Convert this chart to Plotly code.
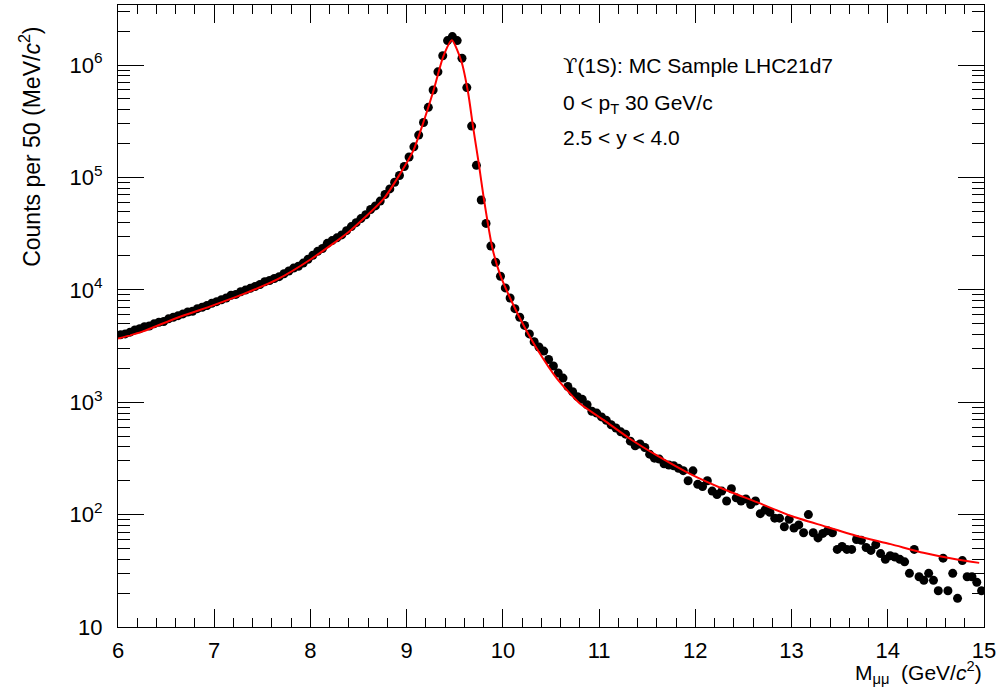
import plotly.graph_objects as go

# Dimuon invariant mass, 50 MeV bins from 6 to 15 GeV/c^2
bin_low = 6.0
bin_width = 0.05

# counts per bin (rising side up to the peak)
counts_rise = [
    3980, 4050, 4200, 4400, 4500, 4700, 4760, 4980, 5150, 5230,
    5520, 5700, 5890, 6100, 6350, 6440, 6800, 7000, 7250, 7600,
    7850, 8150, 8450, 8950, 9100, 9600, 9950, 10300, 10700, 11150,
    11800, 12100, 12600, 13100, 13900, 14700, 15600, 16200, 17300, 18700,
    20300, 22000, 23300, 25900, 27400, 29000, 30800, 33600, 36500, 39600,
    43000, 46500, 51800, 55800, 61600, 70500, 79000, 90500, 104000, 125000,
    152000, 187000, 238000, 308000, 420000, 600000, 870000, 1210000, 1650000, 1790000,
    1650000, 1150000, 630000, 286000, 128000,
]
# falling side 9.775 - 11.875
counts_fall = [
    63000, 39000, 24500, 17600, 13200,
    10400, 8450, 6800, 5700, 4820, 4050, 3450, 3100, 2850, 2400,
    2100, 1820, 1640, 1380, 1240, 1120, 1060, 950, 830, 800,
    740, 690, 630, 590, 545, 520, 450, 410, 425, 395,
    345, 318, 312, 283, 276, 272, 258, 246,
]
# high mass tail 11.925 - 14.975
counts_tail = [
    200, 245, 186, 178, 200, 162, 151, 162, 132, 170,
    141, 132, 138, 123, 132, 102, 110, 105, 93, 93,
    78, 91, 76, 81, 69, 100, 69, 62, 68, 72,
    69, 49, 52, 49, 49, 60, 59, 51, 48, 54,
    45, 40, 43, 42, 40, 38, 30, 49, 28, 26,
    30, 26, 21, 41, 21, 30, 18, 39, 28, 28,
    25, 21,
]

counts = counts_rise + counts_fall + counts_tail
mass = [round(bin_low + bin_width * (i + 0.5), 3) for i in range(len(counts))]

# fit curve (red), sampled from the plot
fit_mass = [6.00, 6.26, 6.61, 6.96, 7.30, 7.65, 8.00, 8.41, 8.76,
            8.93, 9.07, 9.17, 9.28, 9.38, 9.47, 9.57, 9.64, 9.69, 9.75,
            9.80, 9.89, 9.97, 10.09, 10.23, 10.35, 10.56, 10.80, 11.05, 11.32,
            11.60, 11.95, 12.29, 12.64, 12.99, 13.33, 13.68, 14.03, 14.37, 14.72,
            14.95]
fit_counts = [3680, 4270, 5620, 7130, 9150, 12300, 18600, 33400, 64300,
              107000, 174000, 302000, 597000, 1190000, 1660000, 1070000, 558000, 282000, 132000,
              66400, 23700, 13700, 7910, 4570, 3020, 1630, 973, 692, 473,
              336, 229, 169, 129, 97.7, 79.4, 64.6, 54.6, 45.7, 39.8,
              37.2]

y_tickvals = [10, 100, 1000, 1e4, 1e5, 1e6]
y_ticktext = ["10", "10<sup>2</sup>", "10<sup>3</sup>", "10<sup>4</sup>",
              "10<sup>5</sup>", "10<sup>6</sup>"]

FONT = "Liberation Sans, Arial, Helvetica, sans-serif"

fig = go.Figure()
fig.add_trace(go.Scatter(x=mass, y=counts, mode="markers",
                         marker=dict(color="black", size=9, line=dict(width=0)),
                         name="MC"))
fig.add_trace(go.Scatter(x=fit_mass, y=fit_counts, mode="lines",
                         line=dict(color="#ff0000", width=2, shape="spline", smoothing=0.6),
                         name="fit"))

fig.update_layout(
    width=1003, height=689,
    margin=dict(l=118, r=19, t=5, b=62),
    paper_bgcolor="white", plot_bgcolor="white",
    showlegend=False,
    font=dict(family=FONT, size=22, color="black"),
)

fig.update_xaxes(
    range=[6, 15], dtick=1, tick0=6,
    showline=True, linecolor="black", linewidth=1, mirror="allticks",
    ticks="inside", ticklen=18, tickwidth=1, tickcolor="black",
    minor=dict(dtick=0.2, ticks="inside", ticklen=9, tickwidth=1, tickcolor="black", showgrid=False),
    showgrid=False, zeroline=False,
    tickfont=dict(family=FONT, size=22),
    ticklabelstandoff=4,
)
fig.update_yaxes(
    type="log", range=[1, 6.534],
    tickvals=y_tickvals, ticktext=y_ticktext,
    showline=True, linecolor="black", linewidth=1, mirror="allticks",
    ticks="inside", ticklen=26, tickwidth=1, tickcolor="black",
    minor=dict(dtick="D1", ticks="inside", ticklen=12, tickwidth=1, tickcolor="black", showgrid=False),
    showgrid=False, zeroline=False,
    tickfont=dict(family=FONT, size=22),
    ticklabelstandoff=10,
)

# axis titles, ROOT style (aligned to the axis ends)
fig.add_annotation(text="M<sub>μμ</sub>  (GeV/<i>c</i><sup>2</sup>)",
                   xref="paper", yref="paper", x=1.0, y=-0.0724,
                   xanchor="right", yanchor="middle", showarrow=False,
                   font=dict(family=FONT, size=21))
fig.add_annotation(text="Counts per 50 (MeV/<i>c</i><sup>2</sup>)",
                   xref="paper", yref="paper", x=-0.1016, y=0.772,
                   xanchor="center", yanchor="middle", textangle=-90, showarrow=False,
                   font=dict(family=FONT, size=23))

# info text
info_lines = ["<span style='font-family:DejaVu Serif'>ϒ</span>(1S): MC Sample LHC21d7",
              "0 < p<sub>T</sub> 30 GeV/c",
              "2.5 < y < 4.0"]
info_y = [0.902, 0.841, 0.787]
for txt, yy in zip(info_lines, info_y):
    fig.add_annotation(text=txt, xref="paper", yref="paper", x=0.511, y=yy,
                       xanchor="left", yanchor="middle", showarrow=False,
                       font=dict(family=FONT, size=21))

# plotly's page keeps the browser's default 8px body margin; drop it
fig.write_html("out.html", config={"displayModeBar": False},
               post_script="document.body.style.margin='0px';")
